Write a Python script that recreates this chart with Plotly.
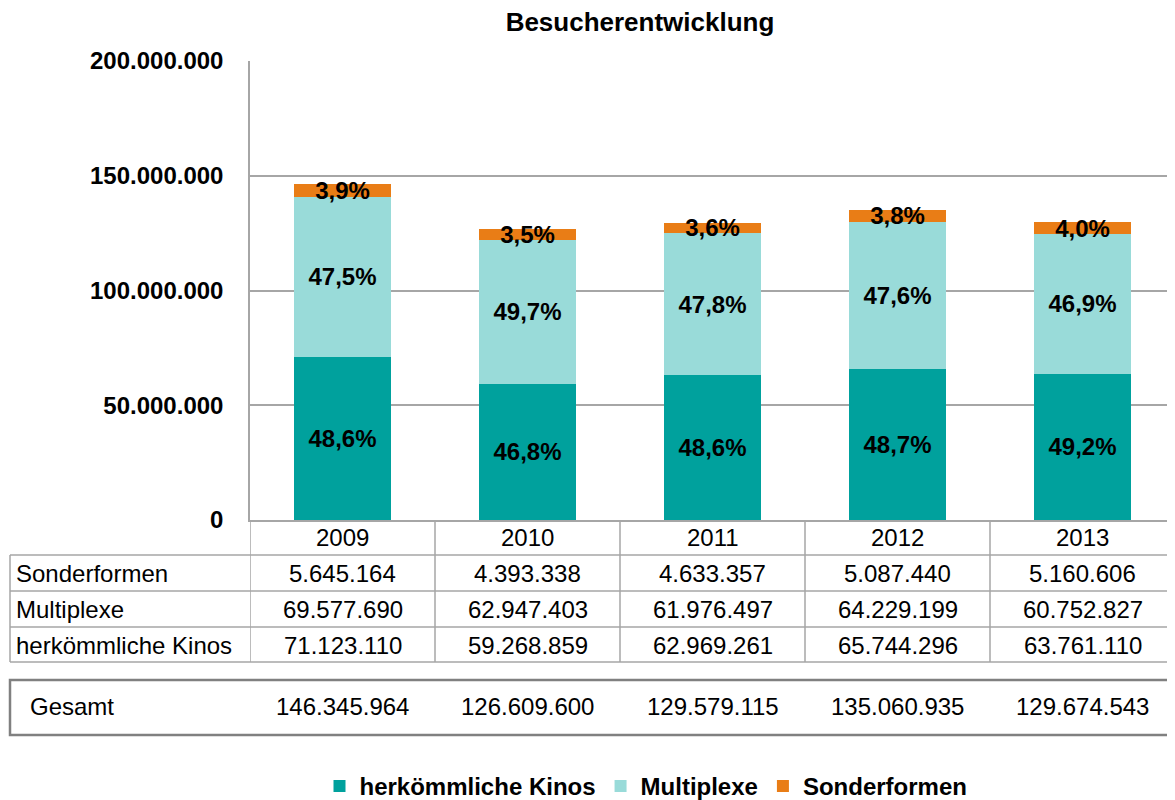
import plotly.graph_objects as go

years = ["2009", "2010", "2011", "2012", "2013"]
herkoemmlich = [71123110, 59268859, 62969261, 65744296, 63761110]
multiplexe = [69577690, 62947403, 61976497, 64229199, 60752827]
sonderformen = [5645164, 4393338, 4633357, 5087440, 5160606]
gesamt = [146345964, 126609600, 129579115, 135060935, 129674543]

series = [
    ("herkömmliche Kinos", herkoemmlich, "#00A19D"),
    ("Multiplexe", multiplexe, "#99DBD9"),
    ("Sonderformen", sonderformen, "#E97D16"),
]

FONT = "Liberation Sans, Arial, sans-serif"
GRID = "#A6A6A6"


def de_num(v):
    return f"{v:,}".replace(",", ".")


def de_pct(v):
    return f"{v:.1f}%".replace(".", ",")


fig = go.Figure()
for name, vals, color in series:
    pct = [de_pct(100 * v / t) for v, t in zip(vals, gesamt)]
    fig.add_trace(go.Bar(
        x=years, y=vals, name=name, marker_color=color,
        marker_line_width=0, width=0.52,
        text=pct, textposition="inside", insidetextanchor="middle",
        constraintext="none", cliponaxis=False,
        textfont=dict(family=FONT, size=24, color="black", weight="bold"),
    ))

# page has an 8px body margin; plot area on screen: x 250..1175, y 61..520
H = 459.0
W = 925.0


def py(pix):
    return (520 - pix) / H


def px(pix):
    return (pix - 250) / W


shapes = []
line = dict(color=GRID, width=1.5)
# table horizontal lines
for yy in [555, 591, 627, 662]:
    shapes.append(dict(type="line", xref="paper", yref="paper",
                       x0=px(10), x1=1, y0=py(yy), y1=py(yy), line=line))
shapes.append(dict(type="line", xref="paper", yref="paper",
                   x0=px(10), x1=px(10), y0=py(555), y1=py(662), line=line))
# column separators
for i in range(len(years)):
    shapes.append(dict(type="line", xref="x", yref="paper",
                       x0=i - 0.5, x1=i - 0.5, y0=0, y1=py(662), line=line))
# Gesamt box
shapes.append(dict(type="rect", xref="paper", yref="paper",
                   x0=px(10), x1=1.01, y0=py(680), y1=py(735),
                   line=dict(color="#808080", width=2.5)))

annotations = []
tfont = dict(family=FONT, size=24, color="black")
rows = [("Sonderformen", sonderformen, 573), ("Multiplexe", multiplexe, 609),
        ("herkömmliche Kinos", herkoemmlich, 645)]
for label, vals, yy in rows:
    annotations.append(dict(xref="paper", yref="paper", x=px(14), y=py(yy),
                            text=label, showarrow=False, xanchor="left",
                            yanchor="middle", font=tfont))
    for i, v in enumerate(vals):
        annotations.append(dict(xref="x", yref="paper", x=i, y=py(yy),
                                text=de_num(v), showarrow=False,
                                yanchor="middle", font=tfont))
for i, yr in enumerate(years):
    annotations.append(dict(xref="x", yref="paper", x=i, y=py(537),
                            text=yr, showarrow=False, yanchor="middle", font=tfont))
annotations.append(dict(xref="paper", yref="paper", x=px(28), y=py(706),
                        text="Gesamt", showarrow=False, xanchor="left",
                        yanchor="middle", font=tfont))
for i, v in enumerate(gesamt):
    annotations.append(dict(xref="x", yref="paper", x=i, y=py(706),
                            text=de_num(v), showarrow=False,
                            yanchor="middle", font=tfont))

fig.update_layout(
    width=1167, height=792, autosize=False,
    margin=dict(l=242, r=0, t=53, b=280, autoexpand=False),
    paper_bgcolor="white", plot_bgcolor="white",
    separators=",.",
    barmode="stack",
    title=dict(text="Besucherentwicklung", x=632 / 1167, xanchor="center",
               y=1 - 14 / 792, yanchor="middle",
               font=dict(family=FONT, size=26, color="black", weight="bold")),
    font=dict(family=FONT, color="black"),
    xaxis=dict(type="category", showticklabels=False, showline=True,
               linecolor=GRID, linewidth=1.5, showgrid=False,
               range=[-0.5, 4.5]),
    yaxis=dict(range=[0, 200000000], dtick=50000000, tickformat=",d",
               showgrid=True, gridcolor=GRID, gridwidth=1.5,
               showline=True, linecolor=GRID, linewidth=1.5,
               zeroline=False, ticklabelstandoff=20,
               tickfont=dict(family=FONT, size=24, color="black", weight="bold")),
    legend=dict(orientation="h", traceorder="normal",
                x=px(646), xanchor="center", y=py(764), yanchor="top",
                font=dict(family=FONT, size=24, color="black", weight="bold"),
                itemwidth=30),
    showlegend=True,
    shapes=shapes,
    annotations=annotations,
)

fig.write_html("out.html")
